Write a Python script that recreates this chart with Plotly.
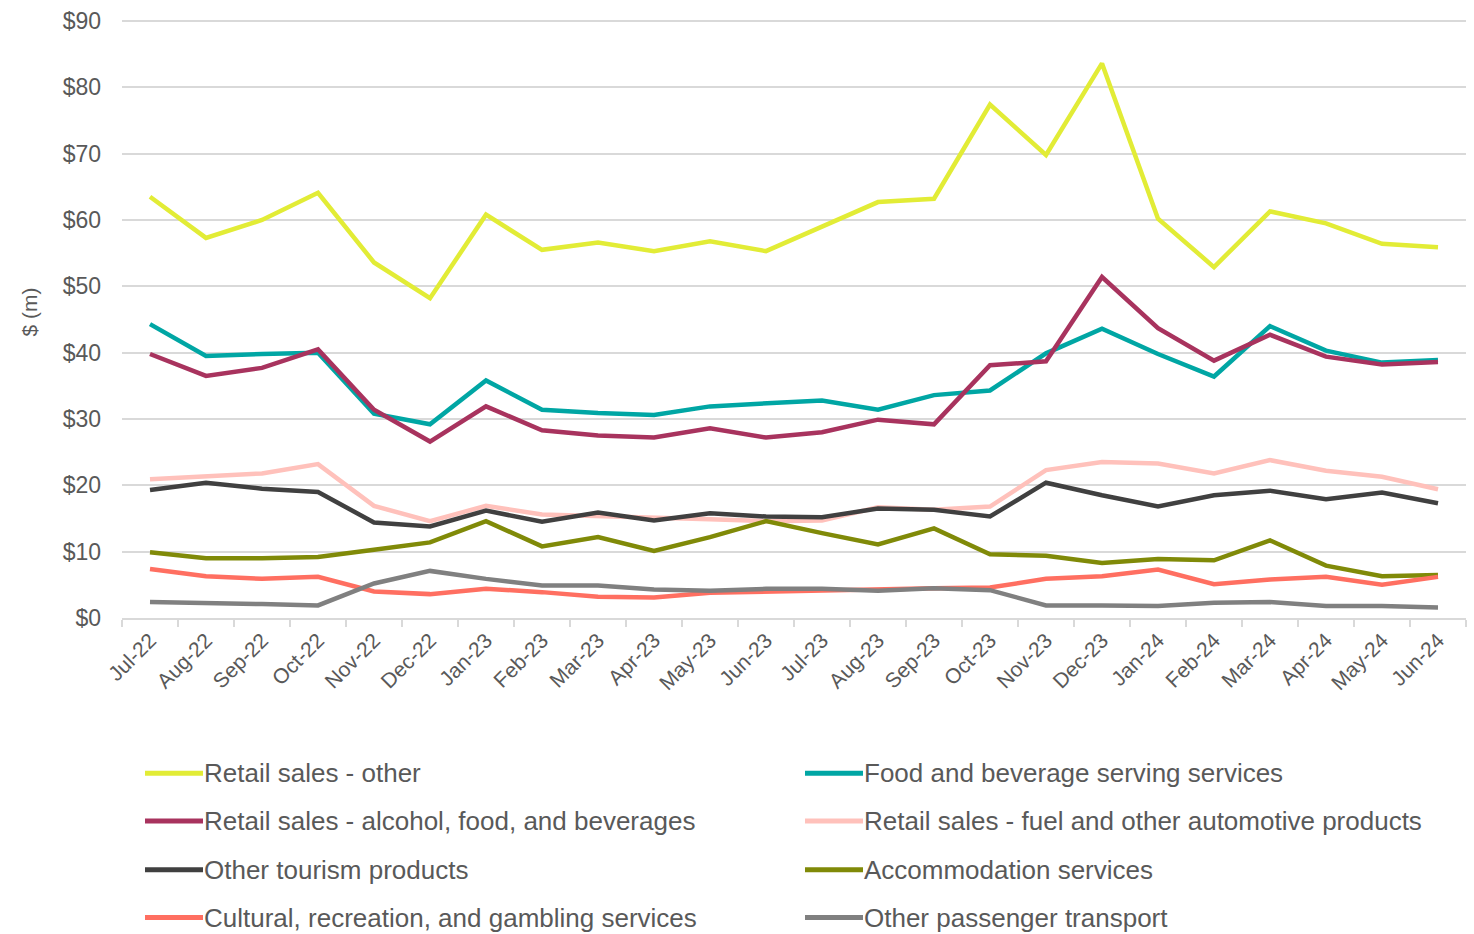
import plotly.graph_objects as go

months = ["Jul-22", "Aug-22", "Sep-22", "Oct-22", "Nov-22", "Dec-22", "Jan-23", "Feb-23",
          "Mar-23", "Apr-23", "May-23", "Jun-23", "Jul-23", "Aug-23", "Sep-23", "Oct-23",
          "Nov-23", "Dec-23", "Jan-24", "Feb-24", "Mar-24", "Apr-24", "May-24", "Jun-24"]

retail_other = [63.5, 57.3, 60.0, 64.1, 53.6, 48.2, 60.8, 55.5, 56.6, 55.3, 56.8, 55.3,
                59.0, 62.7, 63.2, 77.4, 69.8, 83.6, 60.2, 52.9, 61.3, 59.5, 56.4, 55.9]
food_bev = [44.3, 39.5, 39.8, 40.0, 30.8, 29.2, 35.8, 31.4, 30.9, 30.6, 31.9, 32.3,
            32.8, 31.4, 33.6, 34.3, 39.9, 43.6, 39.8, 36.4, 44.0, 40.3, 38.5, 38.9]
retail_alcohol = [39.8, 36.5, 37.7, 40.5, 31.4, 26.6, 31.9, 28.3, 27.5, 27.2, 28.6, 27.2,
                  28.0, 29.9, 29.2, 38.1, 38.7, 51.4, 43.7, 38.8, 42.7, 39.4, 38.2, 38.6]
retail_fuel = [20.9, 21.3, 21.8, 23.2, 16.9, 14.6, 16.9, 15.6, 15.4, 15.2, 14.9, 14.6,
               14.7, 16.7, 16.3, 16.8, 22.3, 23.5, 23.3, 21.8, 23.8, 22.2, 21.3, 19.4]
other_tourism = [19.3, 20.4, 19.5, 19.0, 14.4, 13.8, 16.2, 14.5, 15.9, 14.7, 15.8, 15.3,
                 15.2, 16.5, 16.3, 15.3, 20.4, 18.5, 16.8, 18.5, 19.2, 17.9, 18.9, 17.3]
accommodation = [9.9, 9.0, 9.0, 9.2, 10.3, 11.4, 14.6, 10.8, 12.2, 10.1, 12.2, 14.6,
                 12.8, 11.1, 13.5, 9.6, 9.4, 8.3, 8.9, 8.7, 11.7, 7.9, 6.3, 6.5]
cultural = [7.4, 6.3, 5.9, 6.2, 4.0, 3.6, 4.4, 3.9, 3.2, 3.1, 3.8, 4.0,
            4.1, 4.3, 4.5, 4.6, 5.9, 6.3, 7.3, 5.1, 5.8, 6.2, 5.0, 6.2]
other_transport = [2.4, 2.3, 2.1, 1.9, 5.2, 7.1, 5.9, 4.9, 4.9, 4.3, 4.1, 4.4,
                   4.4, 4.1, 4.5, 4.2, 1.9, 1.9, 1.8, 2.3, 2.4, 1.8, 1.8, 1.6]

series_names = ["Retail sales - other", "Food and beverage serving services",
                "Retail sales - alcohol, food, and beverages",
                "Retail sales - fuel and other automotive products",
                "Other tourism products", "Accommodation services",
                "Cultural, recreation, and gambling services", "Other passenger transport"]
series_values = [retail_other, food_bev, retail_alcohol, retail_fuel,
                 other_tourism, accommodation, cultural, other_transport]
series_colors = ["#E2EC36", "#00A6A4", "#A8335E", "#FFC1BB",
                 "#404040", "#808A08", "#FF6F61", "#808080"]

y_ticks = [0, 10, 20, 30, 40, 50, 60, 70, 80, 90]
y_tick_labels = ["$" + str(v) for v in y_ticks]

W, H = 1474, 934
L, T = 122, 16
pw, ph = 1344, 602
R = W - L - pw
B = H - T - ph
y_top = 90 * ph / 600.0  # keeps $90 grid line at y=18 with a little headroom

fig = go.Figure()
for name, vals, col in zip(series_names, series_values, series_colors):
    fig.add_trace(go.Scatter(x=months, y=vals, name=name, mode="lines",
                             line=dict(color=col, width=4.5), showlegend=False))

font_family = "Liberation Sans, Arial, sans-serif"
text_col = "#595959"

def px_x(p):
    return (p - L) / pw

def px_y(p):
    return (T + ph - p) / ph

# legend drawn as shapes + text, two columns
col_x = [145, 805]
row_y = [774, 822, 871, 919]
for i, (name, col) in enumerate(zip(series_names, series_colors)):
    cx = col_x[i % 2]
    ry = row_y[i // 2]
    fig.add_shape(type="line", xref="paper", yref="paper",
                  x0=px_x(cx), x1=px_x(cx + 58), y0=px_y(ry), y1=px_y(ry),
                  line=dict(color=col, width=5))
    fig.add_annotation(xref="paper", yref="paper", x=px_x(cx + 58), y=px_y(ry), text=name,
                       showarrow=False, xanchor="left", yanchor="middle", xshift=-1,
                       font=dict(family=font_family, size=26, color=text_col))

fig.add_annotation(xref="paper", yref="paper", x=px_x(30), y=px_y(310), text="$ (m)",
                   showarrow=False, textangle=-90, xanchor="center", yanchor="middle",
                   font=dict(family=font_family, size=21, color=text_col))

fig.update_layout(
    width=W, height=H,
    margin=dict(l=L, r=R, t=T, b=B),
    paper_bgcolor="white", plot_bgcolor="white",
    font=dict(family=font_family, color=text_col),
    xaxis=dict(type="category", range=[-0.5, len(months) - 0.5], tickangle=-45,
               showgrid=False, showline=True, linecolor="#D9D9D9", linewidth=1.5,
               ticks="outside", tickson="boundaries", ticklen=7, tickcolor="#D9D9D9",
               tickwidth=1.5, tickfont=dict(size=21, color=text_col)),
    yaxis=dict(range=[0, y_top], tickvals=y_ticks, ticktext=y_tick_labels,
               showgrid=True, gridcolor="#D9D9D9", gridwidth=1.5, zeroline=False,
               showline=False, ticks="", ticklabelstandoff=20,
               tickfont=dict(size=23, color=text_col)),
)

fig.write_html("out.html", config={"displayModeBar": False},
               post_script="document.body.style.margin='0';document.body.style.overflow='hidden';")
